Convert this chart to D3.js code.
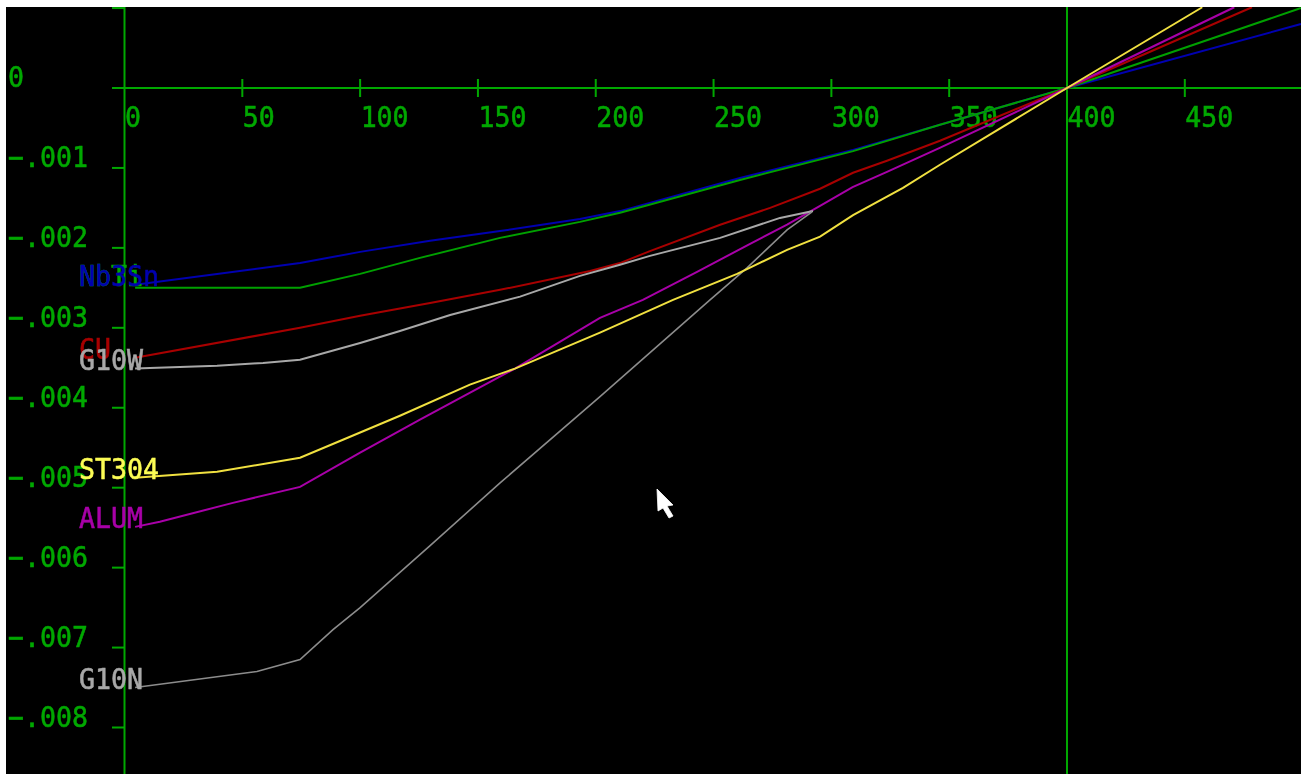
<!DOCTYPE html>
<html><head><meta charset="utf-8">
<script src="https://cdn.jsdelivr.net/npm/d3@7/dist/d3.min.js"></script>
<style>
html,body{margin:0;padding:0;background:#fff;overflow:hidden}
svg{display:block}
text{font-family:"DejaVu Sans Mono",monospace;font-size:28px;stroke-width:0.55px;paint-order:stroke}
</style></head><body>
<script>
const xTicks = [50,100,150,200,250,300,350,450];
const xLabelValues = [0,50,100,150,200,250,300,350,400,450];
const yTicks = [0.001,-0.001,-0.002,-0.003,-0.004,-0.005,-0.006,-0.007,-0.008];
const yLabelValues = [0,-0.001,-0.002,-0.003,-0.004,-0.005,-0.006,-0.007,-0.008];

const nb3snT = [4.5,74.5,100,129.7,159.4,193.3,210.3,261.2,309.2,346.1,400,499.3];
const nb3snV = [-2.46,-2.19,-2.05,-1.91,-1.79,-1.64,-1.54,-1.125,-0.775,-0.46,0,0.8];
const nbtiT = [4.5,74.5,100,125.4,159.4,193.3,210.3,261.2,309.2,346.1,400,499.3];
const nbtiV = [-2.5,-2.5,-2.325,-2.125,-1.875,-1.675,-1.56,-1.15,-0.79,-0.46,0,1.0];
const cuT = [4.5,74.5,100,129.7,159.4,197.6,210.3,223,252.8,274,295.2,309.2,323.6,346.1,400,478.5];
const cuV = [-3.375,-3,-2.85,-2.69,-2.525,-2.29,-2.19,-2.04,-1.71,-1.5,-1.26,-1.06,-0.91,-0.66,0,1.01];
const g10wT = [4.5,39.3,58.8,74.5,100,116.9,138.2,167.9,193.3,210.3,223,252.8,278.2,292.2];
const g10wV = [-3.51,-3.475,-3.44,-3.4,-3.19,-3.04,-2.84,-2.61,-2.35,-2.21,-2.1,-1.875,-1.625,-1.54];
const st304T = [4.5,39.3,74.5,92.7,116.9,146.6,165.7,201.8,232.8,260,281.2,295.2,309.2,330.4,346.1,400,457.4];
const st304V = [-4.875,-4.8,-4.625,-4.4,-4.1,-3.71,-3.51,-3.06,-2.65,-2.325,-2.025,-1.86,-1.59,-1.25,-0.96,0,1.01];
const alumT = [4.5,15,46,74.5,100,125.4,165.7,201.8,220,243,265.5,281.2,295.2,309,323.6,346,400,471];
const alumV = [-5.49,-5.425,-5.19,-4.99,-4.56,-4.15,-3.51,-2.875,-2.65,-2.3,-1.95,-1.71,-1.475,-1.24,-1.05,-0.75,0,1.01];
const g10nT = [4.5,56.2,74.5,88.5,100,129.7,159.4,201.8,248.5,264.2,281.2,291.8];
const g10nV = [-7.5,-7.3,-7.15,-6.775,-6.5,-5.725,-4.94,-3.86,-2.65,-2.25,-1.775,-1.55];

const seriesNames = ["Nb3Sn","NbTi","CU","G10W","ST304","ALUM","G10N"];
const seriesColors = ["#0000b0","#00a000","#a80000","#a8a8a8","#f0e040","#a800a8","#8c8c8c"];
const seriesT = [nb3snT,nbtiT,cuT,g10wT,st304T,alumT,g10nT];
const seriesV = [nb3snV,nbtiV,cuV,g10wV,st304V,alumV,g10nV];
const seriesWidths = [2,2,2,2,2,2,1.6];
const lineOrder = [0,1,2,5,3,6,4];

const W = 1301, H = 774, GREEN = "#00a800", TEXT_W = 16;
const x = d3.scaleLinear().domain([0,400]).range([124.5,1067]);
const y = d3.scaleLinear().domain([0,-0.008]).range([88,727.5]);

const svg = d3.select("body").append("svg").attr("width",W).attr("height",H);
svg.append("defs").append("filter").attr("id","soft")
  .attr("x","-5%").attr("y","-5%").attr("width","110%").attr("height","110%")
  .append("feGaussianBlur").attr("stdDeviation",0.3);
svg.append("rect").attr("x",6).attr("y",7).attr("width",W-6).attr("height",H-7).attr("fill","#000");
svg.append("clipPath").attr("id","plot").append("rect").attr("x",6).attr("y",7).attr("width",W-6).attr("height",H-7);
const g = svg.append("g").attr("clip-path","url(#plot)").append("g").attr("filter","url(#soft)");

// axes
const axes = g.append("g").attr("stroke",GREEN).attr("stroke-width",2);
axes.append("line").attr("x1",112).attr("x2",W).attr("y1",y(0)).attr("y2",y(0));
axes.selectAll(".v").data([0,400]).join("line").attr("class","v").attr("x1",d=>x(d)).attr("x2",d=>x(d)).attr("y1",7).attr("y2",H);
axes.selectAll(".xt").data(xTicks).join("line").attr("class","xt").attr("x1",d=>x(d)).attr("x2",d=>x(d)).attr("y1",y(0)-9).attr("y2",y(0)+9);
axes.selectAll(".yt").data(yTicks).join("line").attr("class","yt").attr("x1",112).attr("x2",x(0)).attr("y1",d=>y(d)).attr("y2",d=>y(d));

// tick labels
const fmtY = v => v===0 ? "0" : d3.format(".3f")(v).replace("0.",".");
g.selectAll(".xl").data(xLabelValues).join("text").attr("class","xl")
  .attr("x",d=>x(d)+0.5).attr("y",y(0)+39).attr("fill",GREEN).attr("stroke",GREEN).text(d=>d)
  .attr("textLength",d=>String(d).length*TEXT_W).attr("lengthAdjust","spacingAndGlyphs");
g.selectAll(".yl").data(yLabelValues).join("text").attr("class","yl")
  .attr("x",8).attr("y",d=>y(d)-1).attr("fill",GREEN).attr("stroke",GREEN).text(fmtY)
  .attr("textLength",d=>fmtY(d).length*TEXT_W).attr("lengthAdjust","spacingAndGlyphs");

// series lines
const line = d3.line().x(d=>x(d[0])).y(d=>y(d[1]/1000)).curve(d3.curveLinear);
g.selectAll(".s").data(lineOrder).join("path").attr("class","s")
  .attr("fill","none").attr("stroke",i=>seriesColors[i]).attr("stroke-width",i=>seriesWidths[i])
  .attr("d",i=>line(seriesT[i].map((t,k)=>[t,seriesV[i][k]])));

// series labels
const labelColors = ["#0000b0","#00a800","#a80000","#a8a8a8","#fcfc54","#a800a8","#a8a8a8"];
g.selectAll(".n").data([2,1,0,3,4,5,6]).join("text").attr("class","n")
  .attr("x",79).attr("y",i=>i===1 ? y(seriesV[0][0]/1000)+1 : y(seriesV[i][0]/1000)+1)
  .attr("fill",i=>labelColors[i]).attr("stroke",i=>labelColors[i])
  .text(i=>seriesNames[i])
  .attr("textLength",i=>seriesNames[i].length*TEXT_W).attr("lengthAdjust","spacingAndGlyphs");

// mouse pointer captured in the screenshot
g.append("path").attr("fill","#fff").attr("stroke","#fff").attr("stroke-width",0.8)
  .attr("d","M657,489 L673,505 L667,506 L673,516 L669,518 L663,508 L658,511 Z");
</script>
</body></html>
